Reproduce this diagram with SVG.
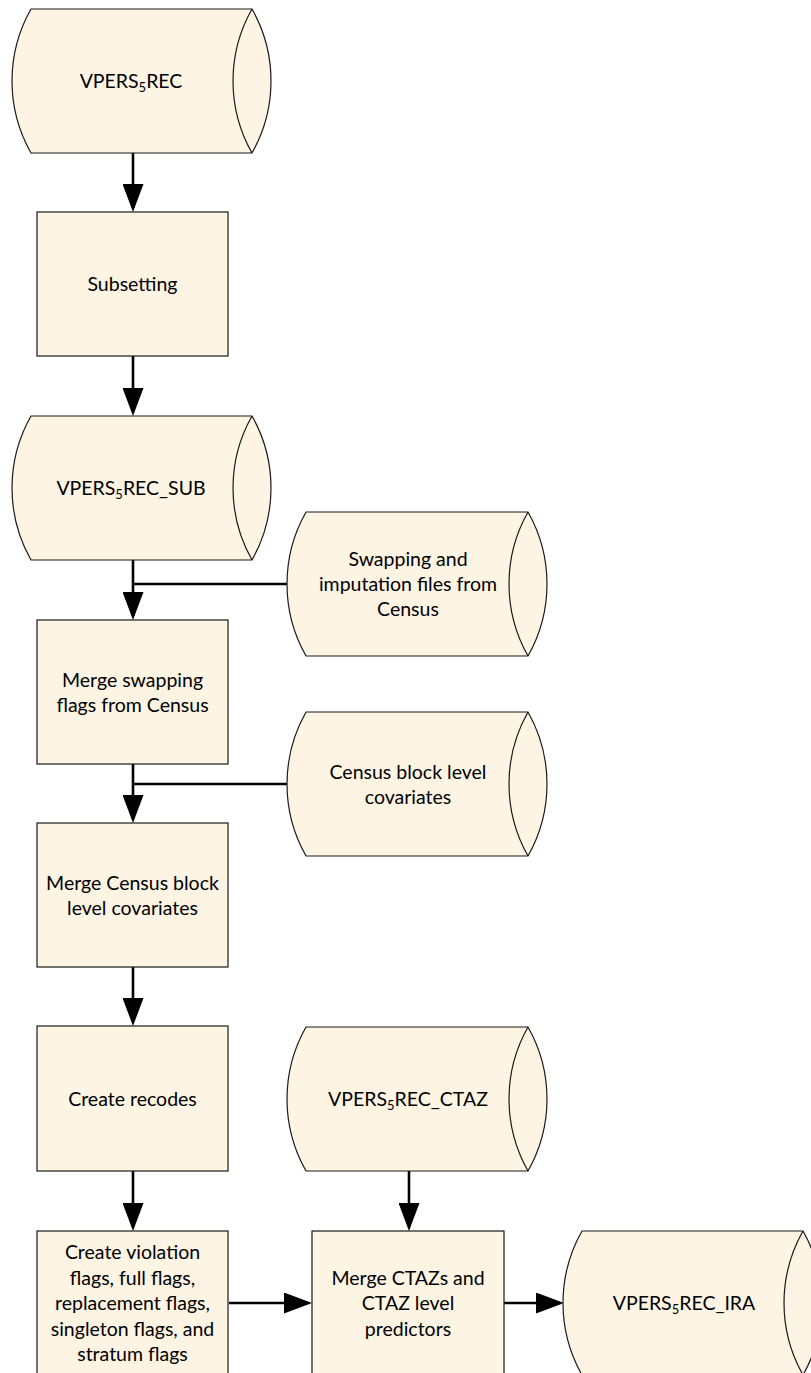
<svg xmlns="http://www.w3.org/2000/svg" width="811" height="1373" viewBox="0 0 811 1373">
  <style>
    .shape { fill: #fdf4e4; stroke: #1a1a1a; stroke-width: 1.2; }
    .inner { fill: none; stroke: #1a1a1a; stroke-width: 1.2; }
    .label { font-family: Lato, "Liberation Sans", sans-serif; font-size: 19.5px; fill: #000; text-anchor: middle; }
    .sub { font-size: 13px; }
    .conn { fill: none; stroke: #000; stroke-width: 2.6; }
    .arrow { marker-end: url(#head); }
  </style>
  <defs>
    <marker id="head" viewBox="0 0 28 21" refX="24" refY="10.5" markerWidth="28" markerHeight="21" markerUnits="userSpaceOnUse" orient="auto">
      <path d="M0,0 L28,10.5 L0,21 Z" fill="#000"/>
    </marker>
  </defs>

  <!-- connectors -->
  <g id="connectors">
    <path class="conn arrow" d="M133,153 L133,208"/>
    <path class="conn arrow" d="M133,356 L133,412"/>
    <path class="conn arrow" d="M133,560 L133,616"/>
    <path class="conn" d="M289,584 L133,584"/>
    <path class="conn arrow" d="M133,764 L133,819"/>
    <path class="conn" d="M289,784 L133,784"/>
    <path class="conn arrow" d="M133,967 L133,1022"/>
    <path class="conn arrow" d="M133,1171 L133,1227"/>
    <path class="conn arrow" d="M409,1171 L409,1227"/>
    <path class="conn arrow" d="M229,1303 L308,1303"/>
    <path class="conn arrow" d="M504,1303 L560,1303"/>
  </g>

  <!-- stored data: VPERS5REC -->
  <g id="vpers5rec">
    <path class="shape" d="M31,9 L252,9 A146,146 0 0 1 252,153 L31,153 A146,146 0 0 1 31,9 Z"/>
    <path class="inner" d="M252,9 A146,146 0 0 0 252,153"/>
    <text class="label" x="131" y="88">VPERS<tspan class="sub" dy="4">5</tspan><tspan dy="-4">REC</tspan></text>
  </g>

  <!-- process: Subsetting -->
  <g id="subsetting">
    <rect class="shape" x="37" y="212" width="191" height="144"/>
    <text class="label" x="132.5" y="291">Subsetting</text>
  </g>

  <!-- stored data: VPERS5REC_SUB -->
  <g id="vpers5rec-sub">
    <path class="shape" d="M31,416 L252,416 A146,146 0 0 1 252,560 L31,560 A146,146 0 0 1 31,416 Z"/>
    <path class="inner" d="M252,416 A146,146 0 0 0 252,560"/>
    <text class="label" x="131" y="495">VPERS<tspan class="sub" dy="4">5</tspan><tspan dy="-4">REC_SUB</tspan></text>
  </g>

  <!-- stored data: swapping and imputation files -->
  <g id="swapping-files">
    <path class="shape" d="M306,512 L528,512 A146,146 0 0 1 528,656 L306,656 A146,146 0 0 1 306,512 Z"/>
    <path class="inner" d="M528,512 A146,146 0 0 0 528,656"/>
    <text class="label" x="408" y="566">Swapping and</text>
    <text class="label" x="408" y="591">imputation files from</text>
    <text class="label" x="408" y="616">Census</text>
  </g>

  <!-- process: merge swapping flags -->
  <g id="merge-swapping">
    <rect class="shape" x="37" y="620" width="191" height="144"/>
    <text class="label" x="132.5" y="687">Merge swapping</text>
    <text class="label" x="132.5" y="712">flags from Census</text>
  </g>

  <!-- stored data: Census block level covariates -->
  <g id="census-covariates">
    <path class="shape" d="M306,712 L528,712 A146,146 0 0 1 528,856 L306,856 A146,146 0 0 1 306,712 Z"/>
    <path class="inner" d="M528,712 A146,146 0 0 0 528,856"/>
    <text class="label" x="408" y="779">Census block level</text>
    <text class="label" x="408" y="804">covariates</text>
  </g>

  <!-- process: merge Census block level covariates -->
  <g id="merge-census">
    <rect class="shape" x="37" y="823" width="191" height="144"/>
    <text class="label" x="132.5" y="890">Merge Census block</text>
    <text class="label" x="132.5" y="915">level covariates</text>
  </g>

  <!-- process: create recodes -->
  <g id="create-recodes">
    <rect class="shape" x="37" y="1026" width="191" height="145"/>
    <text class="label" x="132.5" y="1106">Create recodes</text>
  </g>

  <!-- stored data: VPERS5REC_CTAZ -->
  <g id="vpers5rec-ctaz">
    <path class="shape" d="M306,1027 L528,1027 A146,146 0 0 1 528,1171 L306,1171 A146,146 0 0 1 306,1027 Z"/>
    <path class="inner" d="M528,1027 A146,146 0 0 0 528,1171"/>
    <text class="label" x="408" y="1106">VPERS<tspan class="sub" dy="4">5</tspan><tspan dy="-4">REC_CTAZ</tspan></text>
  </g>

  <!-- process: create flags -->
  <g id="create-flags">
    <rect class="shape" x="37" y="1231" width="191" height="150"/>
    <text class="label" x="132.5" y="1259">Create violation</text>
    <text class="label" x="132.5" y="1284.5">flags, full flags,</text>
    <text class="label" x="132.5" y="1310">replacement flags,</text>
    <text class="label" x="132.5" y="1335.5">singleton flags, and</text>
    <text class="label" x="132.5" y="1361">stratum flags</text>
  </g>

  <!-- process: merge CTAZs -->
  <g id="merge-ctaz">
    <rect class="shape" x="312" y="1231" width="192" height="150"/>
    <text class="label" x="408" y="1284.5">Merge CTAZs and</text>
    <text class="label" x="408" y="1310">CTAZ level</text>
    <text class="label" x="408" y="1335.5">predictors</text>
  </g>

  <!-- stored data: VPERS5REC_IRA -->
  <g id="vpers5rec-ira">
    <path class="shape" d="M582,1231 L803,1231 A146,146 0 0 1 803,1375 L582,1375 A146,146 0 0 1 582,1231 Z"/>
    <path class="inner" d="M803,1231 A146,146 0 0 0 803,1375"/>
    <text class="label" x="684" y="1310">VPERS<tspan class="sub" dy="4">5</tspan><tspan dy="-4">REC_IRA</tspan></text>
  </g>
</svg>
